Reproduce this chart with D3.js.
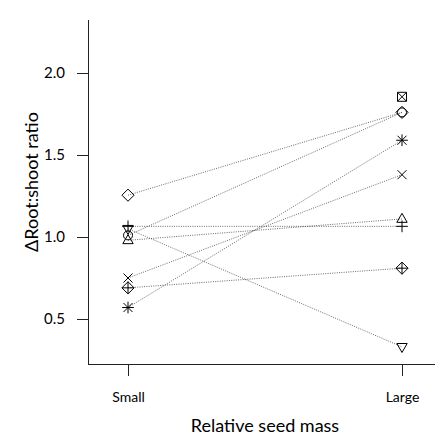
<!DOCTYPE html>
<html>
<head>
<meta charset="utf-8">
<script src="https://cdn.jsdelivr.net/npm/d3@7"></script>
<style>
  body { margin: 0; background: #fff; }
  text { font-family: Lato, "DejaVu Sans", sans-serif; fill: #000; }
</style>
</head>
<body>
<svg id="chart" width="435" height="439"></svg>
<script>
// data
var categories = ["Small", "Large"];
var symbols = ["circle", "triangle", "plus", "cross", "diamond", "triangleDown", "squareCross", "asterisk", "diamondPlus"];
var smallSeed = [1.01, 0.98, 1.065, 0.75, 1.255, 1.05, null, 0.57, 0.69];
var largeSeed = [1.76, 1.11, 1.065, 1.38, 1.76, 0.33, 1.855, 1.59, 0.81];
var yTicks = [0.5, 1.0, 1.5, 2.0];

var svg = d3.select("#chart");
var plotLeft = 88, plotTop = 20, plotBottom = 364, plotRight = 435;

var x = d3.scalePoint().domain(categories).range([128, 402]);
var y = d3.scaleLinear().domain([0.2256, 2.3232]).range([plotBottom, plotTop]);

// axes
var yAxis = svg.append("g").attr("transform", "translate(" + plotLeft + ",0)")
    .call(d3.axisLeft(y).tickValues(yTicks).tickFormat(d3.format(".1f")).tickSize(11).tickPadding(12).tickSizeOuter(0));
var xAxis = svg.append("g").attr("transform", "translate(0," + plotBottom + ")")
    .call(d3.axisBottom(x).tickSize(12).tickPadding(16).tickSizeOuter(0));
xAxis.select(".domain").attr("d", "M" + plotLeft + ",0.5H" + plotRight);
yAxis.select(".domain").attr("d", "M0.5," + plotTop + "V" + plotBottom);
svg.selectAll(".domain, .tick line").attr("stroke", "#222").attr("stroke-width", 1);
yAxis.selectAll(".tick text").attr("font-size", 15).attr("font-family", "Lato, sans-serif");
xAxis.selectAll(".tick text").attr("font-size", 14).attr("font-family", "Lato, sans-serif");

svg.append("text").text("Relative seed mass")
    .attr("x", 265).attr("y", 432).attr("text-anchor", "middle").attr("font-size", 18);
svg.append("text").text("\u0394Root:shoot ratio")
    .attr("transform", "translate(38,182) rotate(-90)")
    .attr("text-anchor", "middle").attr("font-size", 18);

// one object per series
var series = symbols.map(function (s, i) {
    return { symbol: s, values: [smallSeed[i], largeSeed[i]] };
});

var line = d3.line()
    .defined(function (d) { return d != null; })
    .x(function (d, i) { return x(categories[i]); })
    .y(function (d) { return y(d); });

svg.append("g").selectAll("path").data(series).enter().append("path")
    .attr("d", function (d) { return d.values[0] == null ? null : line(d.values); })
    .attr("fill", "none").attr("stroke", "#444").attr("stroke-width", 0.8)
    .attr("stroke-dasharray", "1,1.3");

var r = 4.5;
function shape(s) {
    var p = d3.path();
    function seg(x0, y0, x1, y1) { p.moveTo(x0, y0); p.lineTo(x1, y1); }
    function poly(pts) { p.moveTo(pts[0][0], pts[0][1]); pts.slice(1).forEach(function (q) { p.lineTo(q[0], q[1]); }); p.closePath(); }
    var d = r * 1.35, t = r * 1.3;
    if (s == "circle") { p.moveTo(r, 0); p.arc(0, 0, r, 0, 2 * Math.PI); }
    if (s == "triangle") poly([[0, -r * 1.25], [r * 1.15, r * 0.75], [-r * 1.15, r * 0.75]]);
    if (s == "triangleDown") poly([[0, r * 1.25], [r * 1.15, -r * 0.75], [-r * 1.15, -r * 0.75]]);
    if (s == "plus" || s == "asterisk") { seg(-t, 0, t, 0); seg(0, -t, 0, t); }
    if (s == "cross" || s == "asterisk" || s == "squareCross") { seg(-r, -r, r, r); seg(-r, r, r, -r); }
    if (s == "squareCross") { p.rect(-r, -r, 2 * r, 2 * r); }
    if (s == "diamond" || s == "diamondPlus") poly([[0, -d], [d, 0], [0, d], [-d, 0]]);
    if (s == "diamondPlus") { seg(-d, 0, d, 0); seg(0, -d, 0, d); }
    return p.toString();
}

var points = [];
series.forEach(function (d) {
    d.values.forEach(function (v, i) {
        if (v != null) points.push({ symbol: d.symbol, cat: categories[i], value: v });
    });
});
svg.append("g").selectAll("path").data(points).enter().append("path")
    .attr("transform", function (d) { return "translate(" + x(d.cat) + "," + y(d.value) + ")"; })
    .attr("d", function (d) { return shape(d.symbol); })
    .attr("fill", "none").attr("stroke", "#000").attr("stroke-width", 1);
</script>
</body>
</html>
